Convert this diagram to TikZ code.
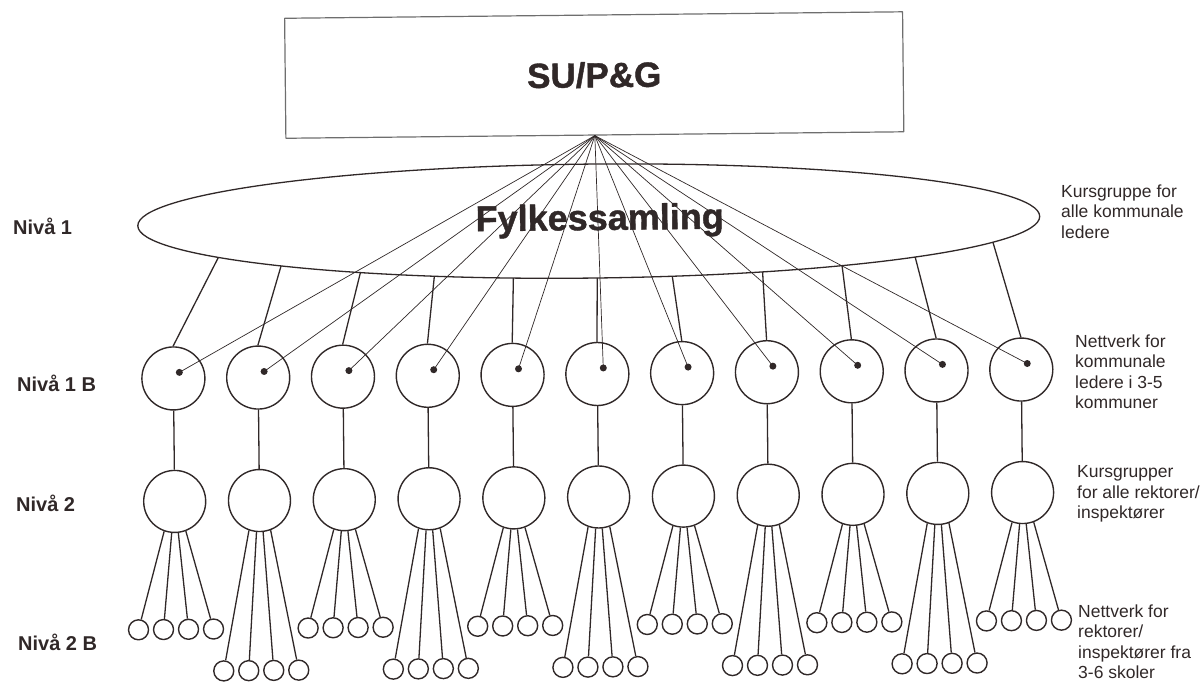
\documentclass[tikz,border=0pt]{standalone}
\usepackage{fontspec}
\setmainfont{Liberation Sans}[BoldFont={Liberation Sans Bold}]
\newfontfamily\headfont{Liberation Sans Bold}[FakeBold=1.2]
\usetikzlibrary{shapes.geometric}
\definecolor{ink}{RGB}{48,40,40}
\definecolor{frame}{RGB}{110,110,110}

\begin{document}
\begin{tikzpicture}[x=1pt,y=-1pt,line join=round,
    every node/.style={text=ink},
    ring/.style={draw=ink,circle,line width=1.4pt,inner sep=0pt,minimum size=#1},
    ring/.default=63pt,
    dot/.style={fill=ink,circle,inner sep=0pt,minimum size=7pt},
    link/.style={draw=ink,line width=1.3pt},
    ray/.style={draw=ink,line width=0.7pt},
    niva/.style={font=\fontsize{20}{24}\selectfont\bfseries,anchor=base west,inner sep=0pt},
    note/.style={font=\fontsize{17.5}{20.5}\selectfont,align=left,anchor=north west,inner sep=0pt}]
    \useasboundingbox (0,0) rectangle (1203,684);
    \begin{scope}[rotate around={0.6:(598,340)},transform shape]
    \node[draw=frame,line width=1.2pt,minimum width=618pt,minimum height=120pt,inner sep=0pt,
        font=\headfont\fontsize{35}{40}\selectfont] (su) at (597,75) {SU/P\&G};
    \node[draw=ink,ellipse,line width=1.3pt,minimum width=902pt,minimum height=114pt,inner sep=0pt] (fs) at (590,221) {};
    \node[font=\headfont\fontsize{36}{40}\selectfont,anchor=base,inner sep=0pt] (fst) at (601,230) {Fylkessamling};
    \foreach \t [count=\i] in {-145.3,-133.1,-120.5,-110.1,-99.7,-89,-79.4,-67.4,-55.9,-43.7,-26.4}
    {
        \pgfmathsetmacro\x{173+84.8*(\i-1)}
        \pgfmathsetmacro\ys{mod(\i,2)==1 ? 625 : 667}
        \node[ring] (nb\i) at (\x,374) {};
        \node[dot] (d\i) at (\x+6,368) {};
        \node[ring=62pt] (nt\i) at (\x,497) {};
        \draw[link] ({590+451*cos(\t)},{221-57*sin(\t)}) -- (nb\i.north);
        \draw[link] (nb\i) -- (nt\i);
        \draw[ray] (su.south) -- (d\i.center);
        \foreach \a [count=\j] in {-110,-96,-84,-70}
        {
            \node[ring=20pt] (s\i-\j) at ({\x+25*\j-62.5},\ys) {};
            \draw[link] (nt\i.\a) -- (s\i-\j);
        }
    }
    \end{scope}
    % nivå labels
    \node[niva] (n1) at (13,235) {Nivå 1};
    \node[niva] (n1b) at (17,392) {Nivå 1 B};
    \node[niva] (n2) at (16,512) {Nivå 2};
    \node[niva] (n2b) at (18,650) {Nivå 2 B};
    \node[note] (k1) at (1061,184.5) {Kursgruppe for\\alle kommunale\\ledere};
    \node[note] (k2) at (1075,334.5) {Nettverk for\\kommunale\\ledere i 3-5\\kommuner};
    \node[note] (k3) at (1077,465.5) {Kursgrupper\\for alle rektorer/\\inspektører};
    \node[note] (k4) at (1078,604.5) {Nettverk for\\rektorer/\\inspektører fra\\3-6 skoler};
\end{tikzpicture}
\end{document}
